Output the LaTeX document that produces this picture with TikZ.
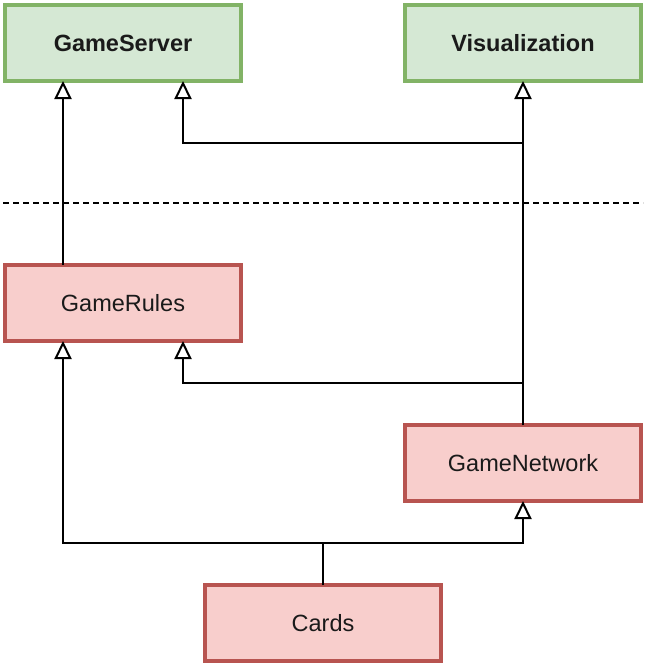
\documentclass[tikz,border=0pt]{standalone}
\usepackage{fontspec}
\setmainfont{Liberation Sans}
\usetikzlibrary{arrows.meta}
\definecolor{gfill}{HTML}{D5E8D4}
\definecolor{gline}{HTML}{82B366}
\definecolor{rfill}{HTML}{F8CECC}
\definecolor{rline}{HTML}{B85450}
\definecolor{txt}{HTML}{1A1A1A}
\tikzset{
  box/.style={rectangle, minimum width=236pt, minimum height=76pt, line width=4pt, inner sep=0pt, outer sep=0pt, text=txt, font=\fontsize{23.5}{28}\selectfont},
  gbox/.style={box, draw=gline, fill=gfill, font=\fontsize{23.5}{28}\selectfont\bfseries},
  rbox/.style={box, draw=rline, fill=rfill},
  arr/.style={line width=2pt, -{Triangle[open, length=18pt, width=17pt, line width=2pt]}},
  sep/.style={line width=2pt, dash pattern=on 6pt off 4pt}
}
\begin{document}
\begin{tikzpicture}[x=1pt,y=-1pt]
\useasboundingbox (0,0) rectangle (646,664);
\node[gbox] (gs) at (123,43) {GameServer};
\node[gbox] (viz) at (523,43) {Visualization};
\node[rbox] (gr) at (123,303) {GameRules};
\node[rbox] (gn) at (523,463) {GameNetwork};
\node[rbox] (cards) at (323,623) {Cards};
\coordinate (j1) at (523,143);
\coordinate (j2) at (523,383);
\coordinate (j3) at (323,543);
\coordinate (d1) at (3,203);
\coordinate (d2) at (643,203);
\draw[sep] (d1) -- (d2);
\draw[arr] ([xshift=-60pt]gr.north) -- ([xshift=-60pt]gs.south);
\draw[arr] (gn.north) -- (viz.south);
\draw[arr] (gn.north) -- (j1) -| ([xshift=60pt]gs.south);
\draw[arr] (gn.north) -- (j2) -| ([xshift=60pt]gr.south);
\draw[arr] (cards.north) -- (j3) -| ([xshift=-60pt]gr.south);
\draw[arr] (cards.north) -- (j3) -| (gn.south);
\end{tikzpicture}
\end{document}
